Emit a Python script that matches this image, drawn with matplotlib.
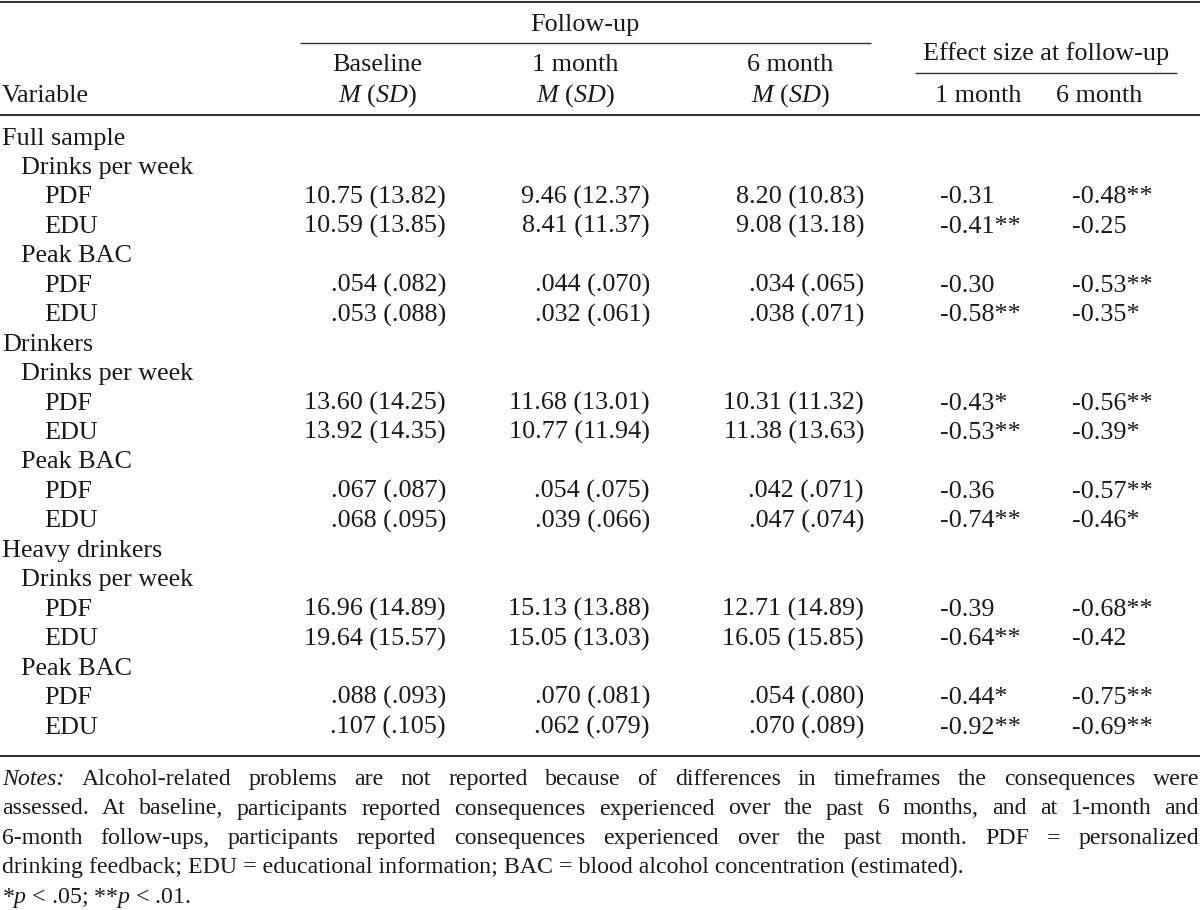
import matplotlib
matplotlib.use("Agg")
import matplotlib.pyplot as plt

plt.rcParams['font.family'] = ['Liberation Serif', 'DejaVu Serif']
plt.rcParams['mathtext.fontset'] = 'custom'
plt.rcParams['mathtext.rm'] = 'Liberation Serif'
plt.rcParams['mathtext.it'] = 'Liberation Serif:italic'

# ---------------- data ----------------
groups = ["Full sample", "Drinkers", "Heavy drinkers"]
measures = ["Drinks per week", "Peak BAC"]
conditions = ["PDF", "EDU"]

baseline_m = [10.75, 10.59, 0.054, 0.053, 13.60, 13.92, 0.067, 0.068, 16.96, 19.64, 0.088, 0.107]
baseline_sd = [13.82, 13.85, 0.082, 0.088, 14.25, 14.35, 0.087, 0.095, 14.89, 15.57, 0.093, 0.105]
month1_m = [9.46, 8.41, 0.044, 0.032, 11.68, 10.77, 0.054, 0.039, 15.13, 15.05, 0.070, 0.062]
month1_sd = [12.37, 11.37, 0.070, 0.061, 13.01, 11.94, 0.075, 0.066, 13.88, 13.03, 0.081, 0.079]
month6_m = [8.20, 9.08, 0.034, 0.038, 10.31, 11.38, 0.042, 0.047, 12.71, 16.05, 0.054, 0.070]
month6_sd = [10.83, 13.18, 0.065, 0.071, 11.32, 13.63, 0.071, 0.074, 14.89, 15.85, 0.080, 0.089]
es_1month = [-0.31, -0.41, -0.30, -0.58, -0.43, -0.53, -0.36, -0.74, -0.39, -0.64, -0.44, -0.92]
sig_1month = ["", "**", "", "**", "*", "**", "", "**", "", "**", "*", "**"]
es_6month = [-0.48, -0.25, -0.53, -0.35, -0.56, -0.39, -0.57, -0.46, -0.68, -0.42, -0.75, -0.69]
sig_6month = ["**", "", "**", "*", "**", "*", "**", "*", "**", "", "**", "**"]

header_cols = ["Baseline", "1 month", "6 month"]
effect_cols = ["1 month", "6 month"]

notes_lines = [
    "Notes: Alcohol-related problems are not reported because of differences in timeframes the consequences were",
    "assessed. At baseline, participants reported consequences experienced over the past 6 months, and at 1-month and",
    "6-month follow-ups, participants reported consequences experienced over the past month. PDF = personalized",
]
notes_last = "drinking feedback; EDU = educational information; BAC = blood alcohol concentration (estimated)."
sig_note = r"*$\mathit{p}$ < .05; **$\mathit{p}$ < .01."

# ---------------- layout ----------------
W, H = 1200, 910
fig = plt.figure(figsize=(W / 100, H / 100), dpi=100)
ax = fig.add_axes([0, 0, 1, 1])
ax.set_xlim(0, W)
ax.set_ylim(H, 0)
ax.axis('off')

FS = 18.8
TC = '#1a1a1a'
LC = '#333333'


def T(x, y, s, ha='left', **kw):
    return ax.text(x, y, s, ha=ha, va='baseline', fontsize=kw.pop('fontsize', FS),
                   color=TC, **kw)


def fmt(v, bac):
    if bac:
        return f"{v:.3f}".replace("0.", ".", 1)
    return f"{v:.2f}"


# rules
ax.hlines(1.5, 0, W, color=LC, lw=1.5)
ax.hlines(115, 0, W, color=LC, lw=1.5)
ax.hlines(756, 0, W, color=LC, lw=1.5)
ax.hlines(43, 300, 871, color=LC, lw=1.0)
ax.hlines(73, 915, 1177, color=LC, lw=1.0)

# header
T(585, 31.5, "Follow-up", ha='center')
T(1046, 60, "Effect size at follow-up", ha='center')
col_centers = [377, 575, 790]
for c, name in zip(col_centers, header_cols):
    T(c, 71, name, ha='center')
    T(c, 101.5, r"$\mathit{M}$ ($\mathit{SD}$)", ha='center')
T(2, 101.5, "Variable")
for c, name in zip([978, 1099], effect_cols):
    T(c, 101.5, name, ha='center')

# body
ROW0 = 144.5
DY = 29.45
indent = [2, 21, 44]
right_edges = [446, 650, 864]
es_left = [940, 1072]

row = 0
k = 0
for g in groups:
    T(indent[0], ROW0 + row * DY, g)
    row += 1
    for mi, m in enumerate(measures):
        T(indent[1], ROW0 + row * DY, m)
        row += 1
        bac = (mi == 1)
        for c in conditions:
            y = ROW0 + row * DY
            T(indent[2], y, c)
            cols = [(baseline_m, baseline_sd), (month1_m, month1_sd), (month6_m, month6_sd)]
            for (mv, sv), xr in zip(cols, right_edges):
                T(xr, y, f"{fmt(mv[k], bac)} ({fmt(sv[k], bac)})", ha='right')
            T(es_left[0], y, f"{es_1month[k]:.2f}{sig_1month[k]}")
            T(es_left[1], y, f"{es_6month[k]:.2f}{sig_6month[k]}")
            row += 1
            k += 1

# notes (justified)
renderer = fig.canvas.get_renderer()
NFS = 17.2
note_base = [785, 814.5, 844]
x0, x1 = 2, 1199
for li, (line, yb) in enumerate(zip(notes_lines, note_base)):
    words = line.split(" ")
    texts = []
    for wi, w in enumerate(words):
        style = 'italic' if (li == 0 and wi == 0) else 'normal'
        texts.append(T(0, yb, w, fontsize=NFS, style=style))
    widths = [t.get_window_extent(renderer).width for t in texts]
    gap = (x1 - x0 - sum(widths)) / (len(texts) - 1)
    x = x0
    for t, wd in zip(texts, widths):
        t.set_x(x)
        x += wd + gap

T(x0, 873.5, notes_last, fontsize=NFS)
T(x0, 902.5, sig_note, fontsize=NFS)

fig.savefig("out.png", dpi=100)
